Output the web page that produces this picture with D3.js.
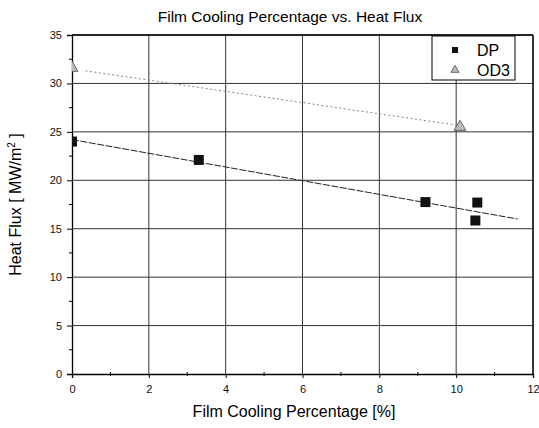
<!DOCTYPE html>
<html>
<head>
<meta charset="utf-8">
<script src="https://cdn.jsdelivr.net/npm/d3@7"></script>
<style>
  body { margin: 0; background: #fff; }
  svg { font-family: "Liberation Sans", Arial, sans-serif; }
</style>
</head>
<body>
<script>
// values
var dpX = [0, 3.3, 9.2, 10.5, 10.55];
var dpY = [24.0, 22.1, 17.75, 15.85, 17.7];
var od3X = [0, 10.1];
var od3Y = [31.6, 25.5];
// fitted lines as drawn in the original
var dpFit = [[0, 24.2], [11.6, 16.0]];
var od3Fit = [[0.35, 31.3], [10.0, 25.7]];
var xTicks = [0, 2, 4, 6, 8, 10, 12];
var yTicks = [0, 5, 10, 15, 20, 25, 30, 35];

var width = 539, height = 428;
var margin = {top: 35, right: 6, bottom: 54, left: 72};

var svg = d3.select("body").append("svg")
	.attr("width", width)
	.attr("height", height);

var x = d3.scaleLinear().domain([0, 12]).range([margin.left, width - margin.right]);
var y = d3.scaleLinear().domain([0, 35]).range([height - margin.bottom, margin.top]);

svg.append("defs").append("clipPath").attr("id", "clip")
	.append("rect")
	.attr("x", x(0)).attr("y", y(35))
	.attr("width", x(12) - x(0)).attr("height", y(0) - y(35));

// grid
svg.append("g").selectAll("line")
	.data(xTicks.slice(1))
	.enter().append("line")
	.attr("x1", function(d){ return x(d); }).attr("x2", function(d){ return x(d); })
	.attr("y1", y(0)).attr("y2", y(35))
	.attr("stroke", "#333").attr("stroke-width", 1);
svg.append("g").selectAll("line")
	.data(yTicks.slice(1))
	.enter().append("line")
	.attr("x1", x(0)).attr("x2", x(12))
	.attr("y1", function(d){ return y(d); }).attr("y2", function(d){ return y(d); })
	.attr("stroke", "#333").attr("stroke-width", 1);

// axes
var xAxis = d3.axisBottom(x).tickValues(xTicks).tickSize(4).tickPadding(7);
var yAxis = d3.axisLeft(y).tickValues(yTicks).tickSize(5).tickPadding(5);

var gx = svg.append("g").attr("transform", "translate(0," + y(0) + ")").call(xAxis);
var gy = svg.append("g").attr("transform", "translate(" + x(0) + ",0)").call(yAxis);
[gx, gy].forEach(function(g){
	g.select(".domain").attr("stroke", "#000").attr("stroke-width", 1.3);
	g.selectAll(".tick line").attr("stroke", "#000");
	g.selectAll(".tick text").attr("font-size", 11).attr("fill", "#111")
		.attr("font-family", "Liberation Sans, Arial, sans-serif");
});

// minor ticks
svg.append("g").selectAll("line")
	.data(d3.range(1, 12, 2))
	.enter().append("line")
	.attr("x1", function(d){ return x(d); }).attr("x2", function(d){ return x(d); })
	.attr("y1", y(0) - 2).attr("y2", y(0) + 2)
	.attr("stroke", "#000");
svg.append("g").selectAll("line")
	.data(d3.range(2.5, 35, 5))
	.enter().append("line")
	.attr("x1", x(0) - 3).attr("x2", x(0))
	.attr("y1", function(d){ return y(d); }).attr("y2", function(d){ return y(d); })
	.attr("stroke", "#000");

// frame top/right
svg.append("line").attr("x1", x(0)).attr("x2", x(12)).attr("y1", y(35)).attr("y2", y(35))
	.attr("stroke", "#000").attr("stroke-width", 1.3);
svg.append("line").attr("x1", x(12)).attr("x2", x(12)).attr("y1", y(35)).attr("y2", y(0))
	.attr("stroke", "#000").attr("stroke-width", 1.3);

var line = d3.line().x(function(d){ return x(d[0]); }).y(function(d){ return y(d[1]); });

var plot = svg.append("g").attr("clip-path", "url(#clip)");

plot.append("path").datum(dpFit)
	.attr("d", line).attr("fill", "none")
	.attr("stroke", "#222").attr("stroke-width", 1).attr("stroke-dasharray", "7,1.5");
plot.append("path").datum(od3Fit)
	.attr("d", line).attr("fill", "none")
	.attr("stroke", "#888").attr("stroke-width", 1).attr("stroke-dasharray", "2,2.5");

plot.selectAll(".dp")
	.data(d3.zip(dpX, dpY))
	.enter().append("rect")
	.attr("class", "dp")
	.attr("x", function(d){ return x(d[0]) - 5; })
	.attr("y", function(d){ return y(d[1]) - 5; })
	.attr("width", 10).attr("height", 10)
	.attr("fill", "#111");

var tri = d3.symbol().type(d3.symbolTriangle).size(60);
plot.selectAll(".od3")
	.data(d3.zip(od3X, od3Y))
	.enter().append("path")
	.attr("class", "od3")
	.attr("d", tri)
	.attr("transform", function(d){ return "translate(" + x(d[0]) + "," + y(d[1]) + ")"; })
	.attr("fill", "#bbb").attr("stroke", "#666").attr("stroke-width", 1);

// legend
var lg = svg.append("g").attr("transform", "translate(432,36)");
lg.append("rect").attr("width", 83).attr("height", 44)
	.attr("fill", "#fff").attr("stroke", "#000").attr("stroke-width", 1);
lg.append("rect").attr("x", 20).attr("y", 11).attr("width", 6).attr("height", 6).attr("fill", "#111");
lg.append("path").attr("d", d3.symbol().type(d3.symbolTriangle).size(28))
	.attr("transform", "translate(23,34)")
	.attr("fill", "#bbb").attr("stroke", "#666");
lg.append("text").attr("x", 45).attr("y", 20).attr("font-size", 16).text("DP");
lg.append("text").attr("x", 45).attr("y", 40).attr("font-size", 16).text("OD3");

// titles
svg.append("text")
	.attr("x", 290).attr("y", 22)
	.attr("text-anchor", "middle").attr("font-size", 15.5)
	.text("Film Cooling Percentage vs. Heat Flux");
svg.append("text")
	.attr("x", 294).attr("y", 417)
	.attr("text-anchor", "middle").attr("font-size", 16)
	.text("Film Cooling Percentage [%]");
var yl = svg.append("text")
	.attr("transform", "translate(21," + ((y(0) + y(35)) / 2) + ") rotate(-90)")
	.attr("text-anchor", "middle").attr("font-size", 16)
	.text("Heat Flux [ MW/m");
yl.append("tspan").attr("dy", -6).attr("font-size", 10).text("2");
yl.append("tspan").attr("dy", 6).text(" ]");
</script>
</body>
</html>
